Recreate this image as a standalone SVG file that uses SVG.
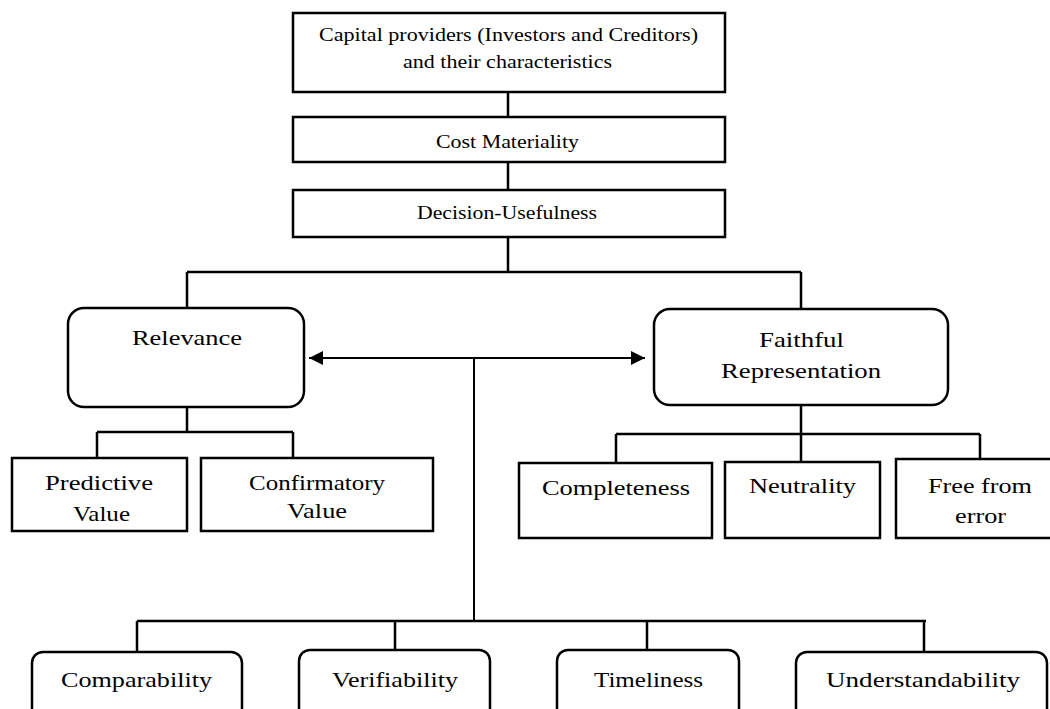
<svg xmlns="http://www.w3.org/2000/svg" width="1050" height="709" viewBox="0 0 1050 709">
<style>
.box{fill:#fff;stroke:#000;stroke-width:2.5}
.ln{fill:none;stroke:#000;stroke-width:2.5}
.thin{fill:none;stroke:#000;stroke-width:2}
text{font-family:"Liberation Serif","Times New Roman",serif;fill:#000;text-anchor:start}
.s{font-size:19px}
.m{font-size:22px}
.b{font-size:22px}
</style>
<defs>
<marker id="ah" viewBox="0 0 14 14" refX="14" refY="7" markerWidth="14" markerHeight="14" markerUnits="userSpaceOnUse" orient="auto-start-reverse">
<path d="M0,0 L14,7 L0,14 Z" fill="#000"/>
</marker>
</defs>
<rect width="1050" height="709" fill="#fff"/>
<g id="connectors">
<path class="ln" d="M508,92 V117 M508,162 V190 M508,237 V272 M187,272 H801 M187,272 V308 M801,272 V309"/>
<path class="ln" d="M187,407 V432 M97,432 H293 M97,432 V458 M293,432 V458"/>
<path class="ln" d="M801,405 V462 M616,434 H980 M616,434 V463 M980,434 V459"/>
<path class="thin" d="M474,358 H309" marker-end="url(#ah)"/>
<path class="thin" d="M474,358 H645" marker-end="url(#ah)"/>
<path class="thin" d="M474,358 V621"/>
<path class="ln" d="M137,621 H926 M137,621 V652 M395,621 V650 M647,621 V650 M924,621 V651"/>
</g>
<g id="capital">
<rect class="box" x="293" y="13" width="432" height="79"/>
<text class="s" x="319" y="41" textLength="379" lengthAdjust="spacingAndGlyphs">Capital providers (Investors and Creditors)</text>
<text class="s" x="403" y="68" textLength="209" lengthAdjust="spacingAndGlyphs">and their characteristics</text>
</g>
<g id="cost">
<rect class="box" x="293" y="117" width="432" height="45"/>
<text class="s" x="436" y="148" textLength="143" lengthAdjust="spacingAndGlyphs">Cost Materiality</text>
</g>
<g id="decision">
<rect class="box" x="293" y="190" width="432" height="47"/>
<text class="s" x="417" y="219" textLength="180" lengthAdjust="spacingAndGlyphs">Decision-Usefulness</text>
</g>
<g id="relevance">
<rect class="box" x="68" y="308" width="236" height="99" rx="16"/>
<text class="m" x="132" y="345" textLength="110" lengthAdjust="spacingAndGlyphs">Relevance</text>
</g>
<g id="faithful">
<rect class="box" x="654" y="309" width="294" height="96" rx="16"/>
<text class="m" x="759" y="347" textLength="85" lengthAdjust="spacingAndGlyphs">Faithful</text>
<text class="m" x="721" y="378" textLength="160" lengthAdjust="spacingAndGlyphs">Representation</text>
</g>
<g id="predictive">
<rect class="box" x="12" y="458" width="175" height="73"/>
<text class="m" x="45" y="490" textLength="108" lengthAdjust="spacingAndGlyphs">Predictive</text>
<text class="m" x="73" y="521" textLength="57" lengthAdjust="spacingAndGlyphs">Value</text>
</g>
<g id="confirmatory">
<rect class="box" x="201" y="458" width="232" height="73"/>
<text class="m" x="249" y="490" textLength="136" lengthAdjust="spacingAndGlyphs">Confirmatory</text>
<text class="m" x="287" y="518" textLength="60" lengthAdjust="spacingAndGlyphs">Value</text>
</g>
<g id="completeness">
<rect class="box" x="519" y="463" width="193" height="75"/>
<text class="m" x="542" y="495" textLength="148" lengthAdjust="spacingAndGlyphs">Completeness</text>
</g>
<g id="neutrality">
<rect class="box" x="725" y="462" width="155" height="76"/>
<text class="m" x="749" y="493" textLength="107" lengthAdjust="spacingAndGlyphs">Neutrality</text>
</g>
<g id="free">
<rect class="box" x="896" y="459" width="170" height="79"/>
<text class="m" x="928" y="493" textLength="104" lengthAdjust="spacingAndGlyphs">Free from</text>
<text class="m" x="955" y="523" textLength="51" lengthAdjust="spacingAndGlyphs">error</text>
</g>
<g id="comparability">
<rect class="box" x="32" y="652" width="210" height="70" rx="11"/>
<text class="b" x="61" y="687" textLength="151" lengthAdjust="spacingAndGlyphs">Comparability</text>
</g>
<g id="verifiability">
<rect class="box" x="299" y="650" width="191" height="72" rx="11"/>
<text class="b" x="332" y="687" textLength="126" lengthAdjust="spacingAndGlyphs">Verifiability</text>
</g>
<g id="timeliness">
<rect class="box" x="557" y="650" width="182" height="72" rx="11"/>
<text class="b" x="594" y="687" textLength="109" lengthAdjust="spacingAndGlyphs">Timeliness</text>
</g>
<g id="understandability">
<rect class="box" x="796" y="652" width="251" height="70" rx="11"/>
<text class="b" x="826" y="687" textLength="194" lengthAdjust="spacingAndGlyphs">Understandability</text>
</g>
</svg>
